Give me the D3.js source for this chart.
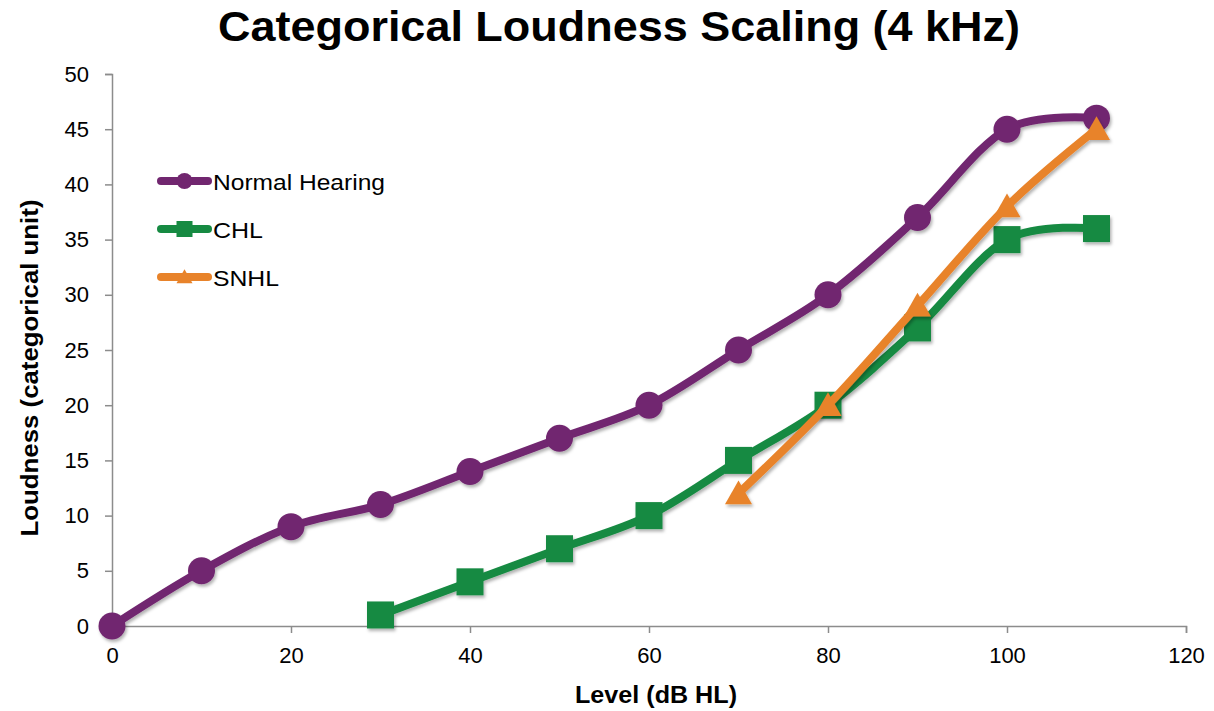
<!DOCTYPE html>
<html>
<head>
<meta charset="utf-8">
<script src="https://cdn.jsdelivr.net/npm/d3@7"></script>
<style>
  html, body { margin: 0; padding: 0; background: #fff; }
  svg { display: block; font-family: "Liberation Sans", Arial, sans-serif; }
</style>
</head>
<body>
<svg id="chart" width="1214" height="711"></svg>
<script>
// Loudness growth at 4 kHz, categorical units vs presentation level
const levels = [0, 10, 20, 30, 40, 50, 60, 70, 80, 90, 100, 110];
const normalHearing = [0, 5, 9, 11, 14, 17, 20, 25, 30, 37, 45, 46];
const chlLevels = [30, 40, 50, 60, 70, 80, 90, 100, 110];
const chlValues = [1, 4, 7, 10, 15, 20, 27, 35, 36];
const snhlLevels = [70, 80, 90, 100, 110];
const snhlValues = [12, 20, 29, 38, 45];
const xTicks = [0, 20, 40, 60, 80, 100, 120];
const yTicks = [0, 5, 10, 15, 20, 25, 30, 35, 40, 45, 50];
const seriesNames = ["Normal Hearing", "CHL", "SNHL"];

const series = [
  { name: seriesNames[0], xs: levels, ys: normalHearing, color: "#71266f", shape: "circle", legendLen: 172 },
  { name: seriesNames[1], xs: chlLevels, ys: chlValues, color: "#168a42", shape: "square", legendLen: 50 },
  { name: seriesNames[2], xs: snhlLevels, ys: snhlValues, color: "#e8832a", shape: "triangle", legendLen: 66 }
];

const svg = d3.select("#chart");
const x = d3.scaleLinear().domain([0, 120]).range([112, 1186]);
const y = d3.scaleLinear().domain([0, 50]).range([626, 74]);
const axisColor = "#8c8c8c";

// soft shadow under lines and markers
const defs = svg.append("defs");
const f = defs.append("filter").attr("id", "shadow")
  .attr("x", "-10%").attr("y", "-10%").attr("width", "130%").attr("height", "130%");
f.append("feDropShadow").attr("dx", 1.5).attr("dy", 2.5).attr("stdDeviation", 1.8)
  .attr("flood-color", "#000").attr("flood-opacity", 0.3);

// title
svg.append("text")
  .attr("x", 619).attr("y", 41)
  .attr("text-anchor", "middle")
  .attr("font-size", 43).attr("font-weight", "bold")
  .attr("textLength", 802).attr("lengthAdjust", "spacingAndGlyphs")
  .text("Categorical Loudness Scaling (4 kHz)");

// axes
const xAxis = svg.append("g").attr("transform", "translate(0,626)")
  .call(d3.axisBottom(x).tickValues(xTicks).tickSize(7).tickPadding(14).tickFormat(d3.format("d")));
const yAxis = svg.append("g").attr("transform", "translate(112,0)")
  .call(d3.axisLeft(y).tickValues(yTicks).tickSize(7).tickPadding(16).tickFormat(d3.format("d")));
[xAxis, yAxis].forEach(g => {
  g.select(".domain").attr("stroke", axisColor).attr("stroke-width", 1.5);
  g.selectAll(".tick line").attr("stroke", axisColor).attr("stroke-width", 1.5);
  g.selectAll(".tick text").attr("font-size", 22).attr("fill", "#000")
    .attr("font-family", "'Liberation Sans', Arial, sans-serif");
});
xAxis.selectAll(".tick text").attr("dy", "0.71em");

// axis titles
svg.append("text")
  .attr("x", 656).attr("y", 703)
  .attr("text-anchor", "middle")
  .attr("font-size", 23).attr("font-weight", "bold")
  .attr("textLength", 162).attr("lengthAdjust", "spacingAndGlyphs")
  .text("Level (dB HL)");
svg.append("text")
  .attr("transform", "translate(38,368) rotate(-90)")
  .attr("text-anchor", "middle")
  .attr("font-size", 23).attr("font-weight", "bold")
  .attr("textLength", 337).attr("lengthAdjust", "spacingAndGlyphs")
  .text("Loudness (categorical unit)");

// marker drawing helper
function marker(g, shape, cx, cy, size, color) {
  if (shape === "circle") {
    g.append("circle").attr("cx", cx).attr("cy", cy).attr("r", size / 2).attr("fill", color);
  } else if (shape === "square") {
    g.append("rect").attr("x", cx - size / 2).attr("y", cy - size / 2)
      .attr("width", size).attr("height", size).attr("fill", color);
  } else {
    const h = size * 0.88;
    g.append("path")
      .attr("d", `M${cx},${cy - h * 0.55} L${cx + size / 2},${cy + h * 0.45} L${cx - size / 2},${cy + h * 0.45} Z`)
      .attr("fill", color);
  }
}

const line = d3.line().x(d => x(d[0])).y(d => y(d[1])).curve(d3.curveCardinal.tension(0));

series.forEach(s => {
  const pts = s.xs.map((v, i) => [v, s.ys[i]]);
  const g = svg.append("g").attr("filter", "url(#shadow)");
  g.append("path").datum(pts)
    .attr("d", line)
    .attr("fill", "none").attr("stroke", s.color)
    .attr("stroke-width", 8).attr("stroke-linejoin", "round").attr("stroke-linecap", "round");
  pts.forEach(p => marker(g, s.shape, x(p[0]), y(p[1]), 27, s.color));
});

// legend
series.forEach((s, i) => {
  const cy = 181 + i * 48;
  const g = svg.append("g");
  g.append("line").attr("x1", 161).attr("x2", 208).attr("y1", cy).attr("y2", cy)
    .attr("stroke", s.color).attr("stroke-width", 8).attr("stroke-linecap", "round");
  marker(g, s.shape, 184.5, cy, 16, s.color);
  g.append("text").attr("x", 213).attr("y", cy + 9)
    .attr("font-size", 22)
    .attr("textLength", s.legendLen).attr("lengthAdjust", "spacingAndGlyphs")
    .text(s.name);
});
</script>
</body>
</html>
